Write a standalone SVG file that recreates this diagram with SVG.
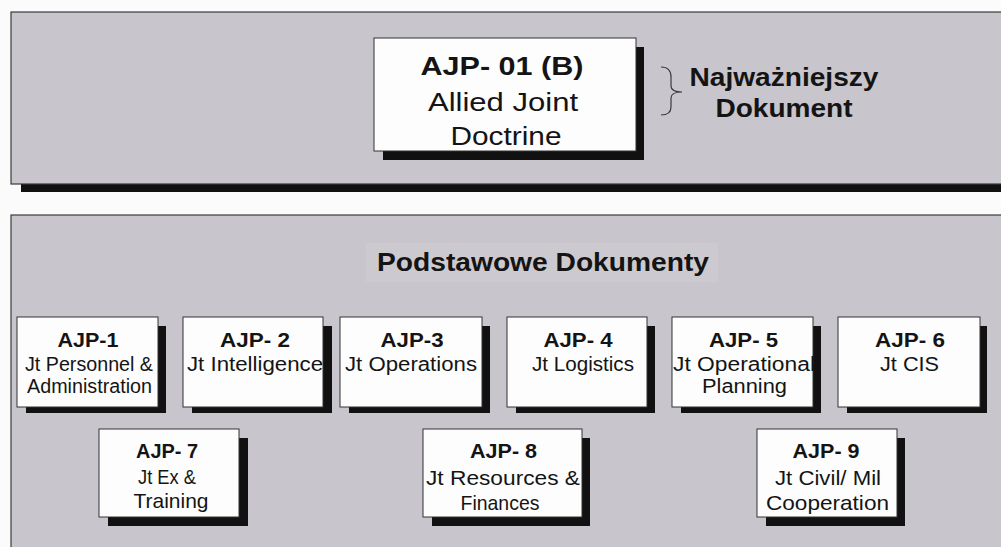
<svg xmlns="http://www.w3.org/2000/svg" width="1001" height="547" viewBox="0 0 1001 547">
<style>
text{font-family:"Liberation Sans",Arial,sans-serif;fill:#141414;text-anchor:middle}
.panel{fill:#c8c5cc;stroke:#3a3a3a;stroke-width:1.2}
.box{fill:#fdfdfd;stroke:#333;stroke-width:1}
.sh{fill:#111}
.b{font-weight:bold;font-size:20px}
.r{font-size:20px}
.r2{font-size:21px}
.big{font-size:26px}
.bigb{font-size:26px;font-weight:bold}
</style>
<rect width="1001" height="547" fill="#fbfbfb"/>

<g id="panel-top">
<rect class="sh" x="21" y="184" width="985" height="8"/>
<rect class="panel" x="11" y="12" width="1000" height="172"/>
</g>
<g id="panel-bottom">
<rect class="panel" x="11" y="215" width="1000" height="345"/>
<rect x="366" y="243" width="352" height="39" fill="#cdcacf"/>
<text class="bigb" x="543" y="271" textLength="332" lengthAdjust="spacingAndGlyphs">Podstawowe Dokumenty</text>
</g>

<g id="connectors">
<path d="M661,67 Q671,67 671,77 L671,86 Q671,92 682,92 Q671,92 671,98 L671,107 Q671,115 661,115" fill="none" stroke="#3a3a3a" stroke-width="1.2"/>
</g>

<g id="ajp-01b">
<rect class="sh" x="383" y="47" width="261" height="113"/>
<rect class="box" x="374" y="38" width="262" height="113"/>
<text class="bigb" x="502" y="75" textLength="163" lengthAdjust="spacingAndGlyphs">AJP- 01 (B)</text>
<text class="big" x="503" y="111" textLength="150" lengthAdjust="spacingAndGlyphs">Allied Joint</text>
<text class="big" x="506" y="145" textLength="111" lengthAdjust="spacingAndGlyphs">Doctrine</text>
</g>

<g id="label-najwazniejszy">
<text class="bigb" x="784" y="86" textLength="189" lengthAdjust="spacingAndGlyphs">Najważniejszy</text>
<text class="bigb" x="784" y="117" textLength="137" lengthAdjust="spacingAndGlyphs">Dokument</text>
</g>

<g id="ajp-1">
<rect class="sh" x="26" y="326" width="140" height="87"/>
<rect class="box" x="17" y="317" width="141" height="90"/>
<text class="b" x="88" y="347" textLength="61" lengthAdjust="spacingAndGlyphs">AJP-1</text>
<text class="r" x="89" y="371" textLength="128" lengthAdjust="spacingAndGlyphs">Jt Personnel &amp;</text>
<text class="r" x="89.5" y="393" textLength="125" lengthAdjust="spacingAndGlyphs">Administration</text>
</g>

<g id="ajp-2">
<rect class="sh" x="192" y="326" width="140" height="87"/>
<rect class="box" x="183" y="317" width="140" height="90"/>
<text class="b" x="255" y="347" textLength="70" lengthAdjust="spacingAndGlyphs">AJP- 2</text>
<text class="r" x="255" y="371" textLength="136" lengthAdjust="spacingAndGlyphs">Jt Intelligence</text>
</g>

<g id="ajp-3">
<rect class="sh" x="349" y="326" width="141" height="87"/>
<rect class="box" x="340" y="317" width="142" height="90"/>
<text class="b" x="412" y="347" textLength="63" lengthAdjust="spacingAndGlyphs">AJP-3</text>
<text class="r" x="411" y="371" textLength="132" lengthAdjust="spacingAndGlyphs">Jt Operations</text>
</g>

<g id="ajp-4">
<rect class="sh" x="516" y="326" width="139" height="87"/>
<rect class="box" x="507" y="317" width="140" height="90"/>
<text class="b" x="578" y="347" textLength="69" lengthAdjust="spacingAndGlyphs">AJP- 4</text>
<text class="r" x="583" y="371" textLength="102" lengthAdjust="spacingAndGlyphs">Jt Logistics</text>
</g>

<g id="ajp-5">
<rect class="sh" x="681" y="326" width="140" height="87"/>
<rect class="box" x="672" y="317" width="141" height="90"/>
<text class="b" x="743.5" y="347" textLength="69" lengthAdjust="spacingAndGlyphs">AJP- 5</text>
<text class="r" x="744" y="371" textLength="142" lengthAdjust="spacingAndGlyphs">Jt Operational</text>
<text class="r" x="744.5" y="393" textLength="85" lengthAdjust="spacingAndGlyphs">Planning</text>
</g>

<g id="ajp-6">
<rect class="sh" x="847" y="326" width="140" height="87"/>
<rect class="box" x="838" y="317" width="142" height="90"/>
<text class="b" x="910" y="347" textLength="70" lengthAdjust="spacingAndGlyphs">AJP- 6</text>
<text class="r" x="909.5" y="371" textLength="59" lengthAdjust="spacingAndGlyphs">Jt CIS</text>
</g>

<g id="ajp-7">
<rect class="sh" x="108" y="438" width="140" height="88"/>
<rect class="box" x="99" y="429" width="140" height="88"/>
<text class="b" x="167" y="458" textLength="62" lengthAdjust="spacingAndGlyphs">AJP- 7</text>
<text class="r2" x="167" y="484" textLength="58" lengthAdjust="spacingAndGlyphs">Jt Ex &amp;</text>
<text class="r2" x="171" y="508" textLength="75" lengthAdjust="spacingAndGlyphs">Training</text>
</g>

<g id="ajp-8">
<rect class="sh" x="432" y="438" width="158" height="88"/>
<rect class="box" x="423" y="429" width="159" height="88"/>
<text class="b" x="503.5" y="458" textLength="67" lengthAdjust="spacingAndGlyphs">AJP- 8</text>
<text class="r2" x="503" y="485" textLength="154" lengthAdjust="spacingAndGlyphs">Jt Resources &amp;</text>
<text class="r2" x="500" y="510" textLength="79" lengthAdjust="spacingAndGlyphs">Finances</text>
</g>

<g id="ajp-9">
<rect class="sh" x="766" y="438" width="139" height="88"/>
<rect class="box" x="757" y="429" width="140" height="88"/>
<text class="b" x="826" y="458" textLength="67" lengthAdjust="spacingAndGlyphs">AJP- 9</text>
<text class="r2" x="828" y="485" textLength="106" lengthAdjust="spacingAndGlyphs">Jt Civil/ Mil</text>
<text class="r2" x="827.5" y="510" textLength="123" lengthAdjust="spacingAndGlyphs">Cooperation</text>
</g>
</svg>
